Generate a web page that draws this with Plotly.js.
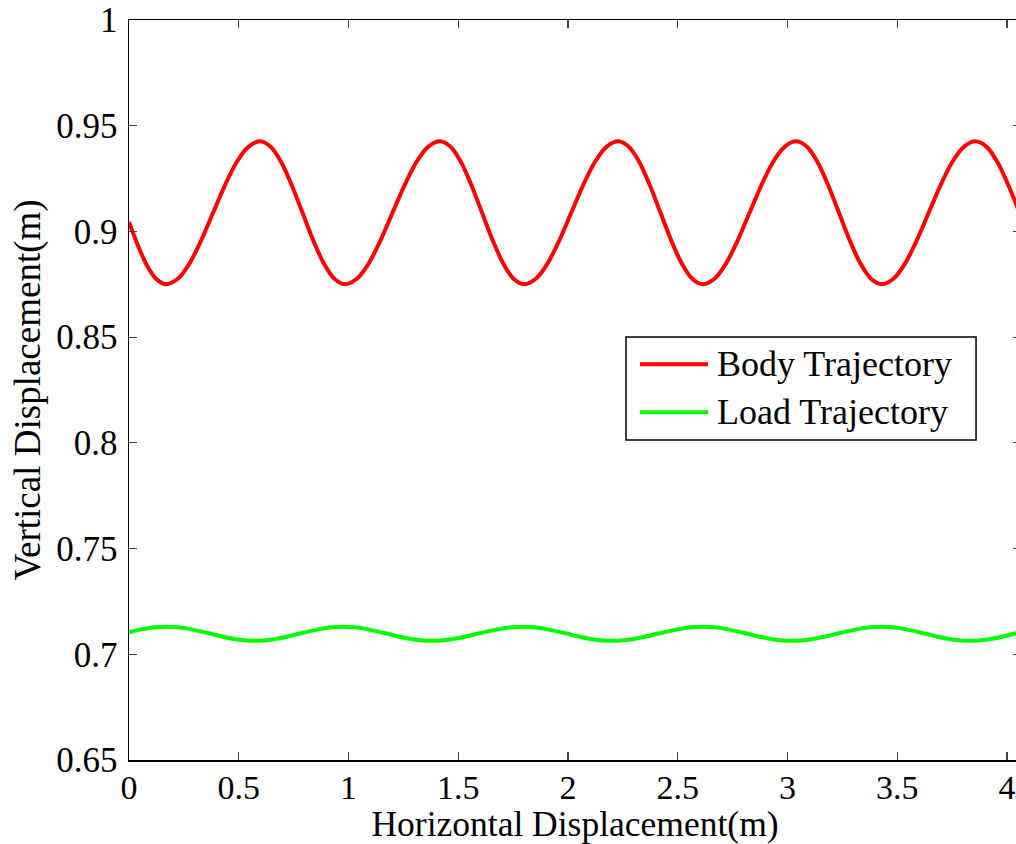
<!DOCTYPE html>
<html>
<head>
<meta charset="utf-8">
<script src="https://cdn.plot.ly/plotly-3.0.1.min.js"></script>
<style>
html, body { margin: 0; padding: 0; overflow: hidden; background: #fff; }
#chart { width: 1026px; height: 844px; }
</style>
</head>
<body>
<div id="chart"></div>
<script>
// Body trajectory (red)
var bodyX = [0, 0.042, 0.085, 0.127, 0.169,
  0.2225, 0.276, 0.3295, 0.383, 0.4365, 0.490, 0.5435, 0.597,
  0.6454, 0.6938, 0.7421, 0.7905, 0.8389, 0.8873, 0.9356, 0.984,
  1.0381, 1.0923, 1.1464, 1.2005, 1.2546, 1.3088, 1.3629, 1.417,
  1.4649, 1.5128, 1.5606, 1.6085, 1.6564, 1.7043, 1.7521, 1.800,
  1.8536, 1.9073, 1.9609, 2.0145, 2.0681, 2.1218, 2.1754, 2.229,
  2.2771, 2.3253, 2.3734, 2.4215, 2.4696, 2.5178, 2.5659, 2.614,
  2.6673, 2.7205, 2.7738, 2.827, 2.8803, 2.9335, 2.9868, 3.040,
  3.0886, 3.1373, 3.1859, 3.2345, 3.2831, 3.3318, 3.3804, 3.429,
  3.4825, 3.536, 3.5895, 3.643, 3.6965, 3.750, 3.8035, 3.857,
  3.907, 3.957, 4.007, 4.057, 4.107];
var bodyY = [0.9045, 0.8930, 0.8833, 0.8772, 0.8750,
  0.8776, 0.8849, 0.8959, 0.9088, 0.9217, 0.9327, 0.9400, 0.9426,
  0.9400, 0.9327, 0.9217, 0.9088, 0.8959, 0.8849, 0.8776, 0.8750,
  0.8776, 0.8849, 0.8959, 0.9088, 0.9217, 0.9327, 0.9400, 0.9426,
  0.9400, 0.9327, 0.9217, 0.9088, 0.8959, 0.8849, 0.8776, 0.8750,
  0.8776, 0.8849, 0.8959, 0.9088, 0.9217, 0.9327, 0.9400, 0.9426,
  0.9400, 0.9327, 0.9217, 0.9088, 0.8959, 0.8849, 0.8776, 0.8750,
  0.8776, 0.8849, 0.8959, 0.9088, 0.9217, 0.9327, 0.9400, 0.9426,
  0.9400, 0.9327, 0.9217, 0.9088, 0.8959, 0.8849, 0.8776, 0.8750,
  0.8776, 0.8849, 0.8959, 0.9088, 0.9217, 0.9327, 0.9400, 0.9426,
  0.9400, 0.9327, 0.9217, 0.9088, 0.8959];

// Load trajectory (green)
var loadX = [0, 0.0191, 0.0697, 0.1204, 0.171,
  0.2214, 0.2718, 0.3221, 0.3725, 0.4229, 0.4733, 0.5236, 0.574,
  0.6243, 0.6745, 0.7248, 0.775, 0.8253, 0.8755, 0.9258, 0.976,
  1.0264, 1.0768, 1.1271, 1.1775, 1.2279, 1.2783, 1.3286, 1.379,
  1.431, 1.483, 1.535, 1.587, 1.639, 1.691, 1.743, 1.795,
  1.8455, 1.896, 1.9465, 1.997, 2.0475, 2.098, 2.1485, 2.199,
  2.2511, 2.3033, 2.3554, 2.4075, 2.4596, 2.5118, 2.5639, 2.616,
  2.6664, 2.7168, 2.7671, 2.8175, 2.8679, 2.9183, 2.9686, 3.019,
  3.0703, 3.1215, 3.1728, 3.224, 3.2753, 3.3265, 3.3778, 3.429,
  3.4793, 3.5295, 3.5798, 3.630, 3.6803, 3.7305, 3.7808, 3.831,
  3.8816, 3.9323, 3.9829, 4.0335, 4.0841];
var loadY = [0.7105, 0.71096, 0.71203, 0.71275, 0.7130,
  0.71275, 0.71203, 0.71096, 0.7097, 0.70844, 0.70737, 0.70665, 0.7064,
  0.70665, 0.70737, 0.70844, 0.7097, 0.71096, 0.71203, 0.71275, 0.7130,
  0.71275, 0.71203, 0.71096, 0.7097, 0.70844, 0.70737, 0.70665, 0.7064,
  0.70665, 0.70737, 0.70844, 0.7097, 0.71096, 0.71203, 0.71275, 0.7130,
  0.71275, 0.71203, 0.71096, 0.7097, 0.70844, 0.70737, 0.70665, 0.7064,
  0.70665, 0.70737, 0.70844, 0.7097, 0.71096, 0.71203, 0.71275, 0.7130,
  0.71275, 0.71203, 0.71096, 0.7097, 0.70844, 0.70737, 0.70665, 0.7064,
  0.70665, 0.70737, 0.70844, 0.7097, 0.71096, 0.71203, 0.71275, 0.7130,
  0.71275, 0.71203, 0.71096, 0.7097, 0.70844, 0.70737, 0.70665, 0.7064,
  0.70665, 0.70737, 0.70844, 0.7097, 0.71096];

var xTickVals = [0, 0.5, 1, 1.5, 2, 2.5, 3, 3.5, 4];
var xTickText = ['0', '0.5', '1', '1.5', '2', '2.5', '3', '3.5', '4'];
var yTickVals = [0.65, 0.7, 0.75, 0.8, 0.85, 0.9, 0.95, 1];
var yTickText = ['0.65', '0.7', '0.75', '0.8', '0.85', '0.9', '0.95', '1'];

var seriesNames = ['Body Trajectory', 'Load Trajectory'];
var seriesColors = ['#ff0000', '#00ff00'];

var FONT = 'Liberation Serif, Times New Roman, serif';

var traces = [
  { x: bodyX, y: bodyY, type: 'scatter', mode: 'lines', name: seriesNames[0],
    line: { color: seriesColors[0], width: 4, shape: 'spline', smoothing: 0.8 } },
  { x: loadX, y: loadY, type: 'scatter', mode: 'lines', name: seriesNames[1],
    line: { color: seriesColors[1], width: 4, shape: 'spline', smoothing: 0.8 } }
];

var axisCommon = {
  showgrid: false, zeroline: false,
  showline: true, linecolor: '#000', linewidth: 1.5,
  mirror: 'ticks', ticks: 'inside', ticklen: 8, tickwidth: 1.2, tickcolor: '#444',
  tickfont: { family: FONT, size: 35, color: '#000' },
  tickmode: 'array'
};

// Legend drawn as a boxed key in paper space (positions in paper fractions)
var legBox = { x0: 0.5572, x1: 0.9496, y0: 0.4324, y1: 0.5716 };
var legLineX = [0.5729, 0.6491];
var legRowY = [0.5347, 0.4699];
var legTextX = 0.6572;

var shapes = [
  { type: 'rect', xref: 'paper', yref: 'paper', x0: legBox.x0, x1: legBox.x1, y0: legBox.y0, y1: legBox.y1,
    line: { color: '#000', width: 1.5 }, fillcolor: '#fff', layer: 'above' }
];
var annotations = [];
for (var i = 0; i < seriesNames.length; i++) {
  shapes.push({ type: 'line', xref: 'paper', yref: 'paper',
    x0: legLineX[0], x1: legLineX[1], y0: legRowY[i], y1: legRowY[i],
    line: { color: seriesColors[i], width: 4 }, layer: 'above' });
  annotations.push({ xref: 'paper', yref: 'paper', x: legTextX, y: legRowY[i] + 0.001,
    xanchor: 'left', yanchor: 'middle', showarrow: false, text: seriesNames[i],
    font: { family: FONT, size: 36, color: '#000' } });
}

var layout = {
  width: 1026, height: 844,
  margin: { l: 129, r: 5, t: 20, b: 84 },
  paper_bgcolor: '#fff', plot_bgcolor: '#fff',
  font: { family: FONT, size: 35, color: '#000' },
  xaxis: Object.assign({}, axisCommon, {
    range: [0, 4.0638], tickvals: xTickVals, ticktext: xTickText,
    ticklabelstandoff: -3,
    tickfont: { family: FONT, size: 34, color: '#000' },
    title: { text: 'Horizontal Displacement(m)', font: { family: FONT, size: 35.5, color: '#000' }, standoff: 5 }
  }),
  yaxis: Object.assign({}, axisCommon, {
    range: [0.65, 1], tickvals: yTickVals, ticktext: yTickText,
    ticklabelstandoff: 3,
    title: { text: 'Vertical Displacement(m)', font: { family: FONT, size: 37, color: '#000' }, standoff: 4 }
  }),
  showlegend: false,
  shapes: shapes,
  annotations: annotations
};

Plotly.newPlot('chart', traces, layout, { displayModeBar: false, staticPlot: true });
</script>
</body>
</html>
